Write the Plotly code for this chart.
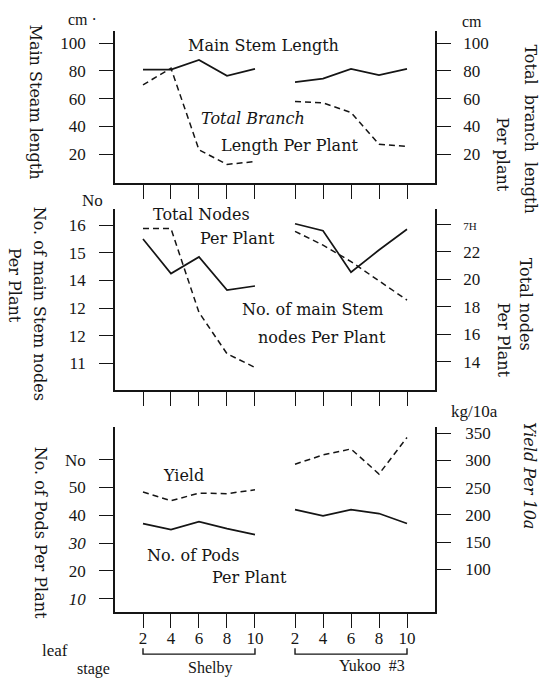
import plotly.graph_objects as go

# ---------------- data ----------------
stages = [2, 4, 6, 8, 10]
varieties = ["Shelby", "Yukoo #3"]

shelby_main_stem_len = [81, 81, 88, 76.5, 81.5]
yukoo_main_stem_len = [72, 74.5, 81.5, 77, 81.5]
shelby_branch_len = [70, 82, 23, 12.5, 14.5]
yukoo_branch_len = [58, 57, 50, 27, 25.5]

shelby_main_nodes = [15.5, 14.25, 14.85, 13.65, 13.8]
yukoo_main_nodes = [16.05, 15.8, 14.3, 15.1, 15.85]
shelby_total_nodes = [23.7, 23.7, 17.6, 14.6, 13.6]
yukoo_total_nodes = [23.5, 22.5, 21.3, 19.9, 18.5]

shelby_pods = [37, 34.8, 37.7, 35.2, 33]
yukoo_pods = [42, 39.8, 42, 40.6, 37]
shelby_yield = [242, 226, 240, 239, 246]
yukoo_yield = [293, 310, 321, 275, 342]

# ---------------- helpers ----------------
W, H = 549, 680
GAP = 5.43  # offset of second variety group on the x scale


def P(x, y):
    return x / W, 1 - y / H


xpos = {}
for gi, v in enumerate(varieties):
    xpos[v] = [i + gi * GAP for i in range(len(stages))]
all_x = xpos[varieties[0]] + xpos[varieties[1]]

INK = "#151515"
SERIF = "Liberation Serif, Times New Roman, serif"
TICKFONT = dict(family=SERIF, size=17, color=INK)
TXT = "DejaVu Serif, serif"

fig = go.Figure()

solid = dict(color=INK, width=1.7)
dashed = dict(color=INK, width=1.5, dash="6px,4px")


def add(xa, ya, vals_s, vals_y, line):
    for v, vals in zip(varieties, (vals_s, vals_y)):
        fig.add_trace(go.Scatter(x=xpos[v], y=vals, mode="lines", line=line,
                                 xaxis=xa, yaxis=ya, showlegend=False,
                                 hoverinfo="skip"))


add("x", "y", shelby_main_stem_len, yukoo_main_stem_len, solid)
add("x", "y2", shelby_branch_len, yukoo_branch_len, dashed)
add("x2", "y3", shelby_main_nodes, yukoo_main_nodes, solid)
add("x2", "y4", shelby_total_nodes, yukoo_total_nodes, dashed)
add("x3", "y5", shelby_pods, yukoo_pods, solid)
add("x3", "y6", shelby_yield, yukoo_yield, dashed)

xdom = [115 / W, 435 / W]
common_x = dict(domain=xdom, range=[-1, 10.43], tickmode="array", tickvals=all_x,
                ticks="outside", ticklen=14, tickwidth=1.3, tickcolor=INK,
                showline=True, linecolor=INK, linewidth=1.6, showgrid=False,
                zeroline=False, tickfont=TICKFONT)

common_y = dict(ticks="outside", ticklen=14, tickwidth=1.3, tickcolor=INK,
                showline=True, linecolor=INK, linewidth=1.6, showgrid=False,
                zeroline=False, tickfont=TICKFONT, tickmode="array",
                ticklabelstandoff=10)

fig.update_layout(
    width=W, height=H, margin=dict(l=0, r=0, t=0, b=0),
    paper_bgcolor="white", plot_bgcolor="white", showlegend=False,
    xaxis=dict(common_x, anchor="y", showticklabels=False),
    xaxis2=dict(common_x, anchor="y3", showticklabels=False),
    xaxis3=dict(common_x, anchor="y5", showticklabels=True,
                ticktext=[str(s) for s in stages] * 2, ticklabelstandoff=-5),
    yaxis=dict(common_y, domain=[1 - 181 / H, 1 - 28 / H], range=[-1.1, 109],
               anchor="x", tickvals=[20, 40, 60, 80, 100]),
    yaxis2=dict(common_y, overlaying="y", side="right", anchor="x",
                range=[-1.1, 109], tickvals=[20, 40, 60, 80, 100],
                ticklabelstandoff=9),
    yaxis3=dict(common_y, domain=[1 - 389 / H, 1 - 207 / H], range=[10.03, 16.58],
                anchor="x2", tickvals=[16, 15, 14, 13, 12, 11],
                ticktext=["16", "15", "14", "12", "12", "11"]),
    yaxis4=dict(common_y, overlaying="y3", side="right", anchor="x2",
                range=[11.94, 25.12], tickvals=[14, 16, 18, 20, 22, 24],
                ticktext=["14", "16", "18", "20", "22",
                          "<span style='font-size:11px'>7H</span>"],
                ticklabelstandoff=9),
    yaxis5=dict(common_y, domain=[1 - 612 / H, 1 - 426 / H], range=[5.08, 71.7],
                anchor="x3", tickvals=[10, 20, 30, 40, 50, 60],
                ticktext=["<i>10</i>", "20", "<i>30</i>", "40", "50", "No"]),
    yaxis6=dict(common_y, overlaying="y5", side="right", anchor="x3",
                range=[21.5, 361], tickvals=[100, 150, 200, 250, 300, 350],
                ticklabelstandoff=11),
)

# ---------------- text ----------------
ann = []


def T(text, x, y, size=16, angle=0, italic=False, family=TXT, xanchor="center"):
    px, py = P(x, y)
    if italic:
        text = "<i>" + text + "</i>"
    ann.append(dict(text=text, x=px, y=py, xref="paper", yref="paper",
                    showarrow=False, textangle=angle, xanchor=xanchor,
                    yanchor="middle", font=dict(family=family, size=size, color=INK)))


# panel labels
T("Main Stem Length", 263, 43)
T("Total Branch", 253, 116, italic=True)
T("Length Per Plant", 289, 143)
T("Total Nodes", 201, 212)
T("Per Plant", 237, 237)
T("No. of main Stem", 312, 308)
T("nodes Per Plant", 322, 336)
T("Yield", 183, 475)
T("No. of Pods", 193, 555)
T("Per Plant", 249, 577)

# units
T("cm ·", 82, 17, size=16, family=SERIF)
T("cm", 472, 19, size=16, family=SERIF)
T("No", 92, 198, size=17, family=SERIF)
T("kg/10a", 474, 410, size=17, family=SERIF)

# vertical axis titles
T("Main Steam length", 35, 99, angle=90)
T("No. of main Stem nodes", 39, 302, angle=90)
T("Per Plant", 14, 283, angle=90)
T("No. of Pods Per Plant", 40, 532, angle=90)
T("Total  branch  length", 531, 126, angle=90)
T("Per plant", 503, 152, angle=90)
T("Total nodes", 525, 302, angle=90)
T("Per Plant", 503, 338, angle=90)
T("Yield Per 10a", 529, 474, angle=90, italic=True)

# x labels
T("leaf", 55, 650, size=17, family=SERIF)
T("stage", 93, 669, size=16, family=SERIF)
T("Shelby", 210, 668, size=16, family=SERIF)
T("Yukoo  #3", 372, 665, size=16, family=SERIF)

fig.update_layout(annotations=ann)

# brackets under the stage numbers
shapes = []
for v in varieties:
    xs = xpos[v]
    y0 = 1 - 648 / H
    y1 = 1 - 654 / H
    shapes.append(dict(type="path", xref="x3", yref="paper",
                       path=f"M {xs[0]},{y0} L {xs[0]},{y1} L {xs[-1]},{y1} L {xs[-1]},{y0}",
                       line=dict(color=INK, width=1.4)))
fig.update_layout(shapes=shapes)

fig.write_html("out.html")
